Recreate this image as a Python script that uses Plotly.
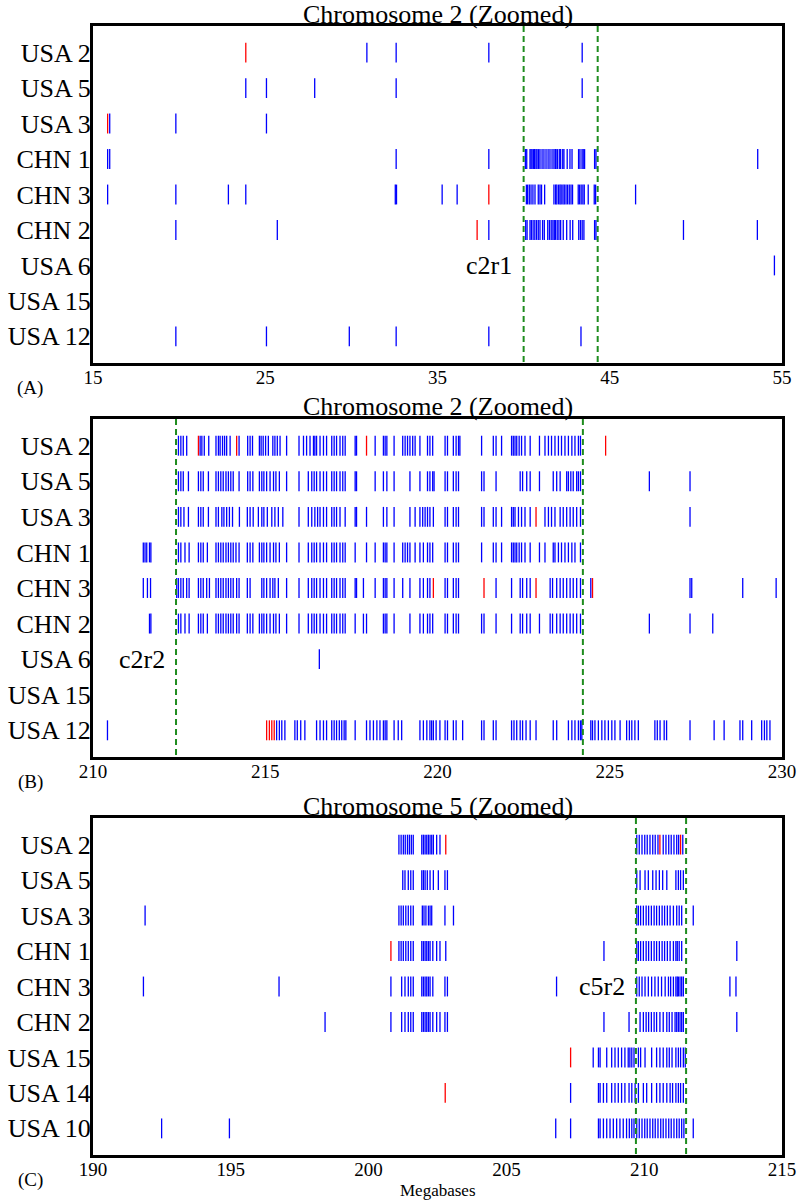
import plotly.graph_objects as go

# ---------------- Panel A : Chromosome 2 (15-55 Mb) ----------------
rows_a = ["USA 2", "USA 5", "USA 3", "CHN 1", "CHN 3", "CHN 2", "USA 6", "USA 15", "USA 12"]
a_usa2_blue = [30.9, 32.6, 37.98, 43.4]
a_usa2_red = [23.87]
a_usa5_blue = [23.87, 25.07, 27.87, 32.6, 43.4]
a_usa5_red = []
a_usa3_blue = [15.97, 19.81, 25.07]
a_usa3_red = [15.85]
a_chn1_blue = [15.85, 15.97, 32.6, 37.98, 40.10, 40.18, 40.37, 40.43, 40.49, 40.57, 40.64, 40.72, 40.78,
               40.87, 40.95, 41.07, 41.18, 41.30, 41.42, 41.53, 41.65, 41.76, 41.84, 41.88, 41.96, 42.07,
               42.15, 42.27, 42.34, 42.53, 42.69, 42.81, 43.19, 43.27, 43.39, 43.46, 43.54, 44.12, 44.20, 53.59]
a_chn1_red = []
a_chn3_blue = [15.85, 19.81, 22.86, 23.87, 32.55, 32.62, 35.27, 36.14, 40.16, 40.23, 40.33, 40.43, 40.54,
               40.66, 40.85, 40.95, 41.04, 41.22, 41.76, 41.86, 41.93, 42.03, 42.11, 42.18, 42.28, 42.36,
               42.46, 42.55, 42.65, 42.75, 42.84, 43.17, 43.25, 43.34, 43.44, 43.52, 43.75, 44.10, 44.18, 46.50]
a_chn3_red = [37.98]
a_chn2_blue = [19.81, 25.70, 37.98, 40.12, 40.20, 40.37, 40.45, 40.55, 40.65, 40.75, 40.85, 40.95, 41.10,
               41.20, 41.40, 41.50, 41.60, 41.70, 41.78, 41.85, 41.95, 42.05, 42.15, 42.30, 42.50, 42.70,
               42.85, 43.20, 43.30, 43.40, 43.50, 44.12, 44.20, 49.28, 53.57]
a_chn2_red = [37.30]
a_usa6_blue = [54.56]
a_usa6_red = []
a_usa15_blue = []
a_usa15_red = []
a_usa12_blue = [19.81, 25.07, 29.88, 32.6, 37.98, 43.33]
a_usa12_red = []
a_ticks = [15, 25, 35, 45, 55]
a_region = [40.0, 44.3]

# ---------------- Panel B : Chromosome 2 (210-230 Mb) ----------------
rows_b = ["USA 2", "USA 5", "USA 3", "CHN 1", "CHN 3", "CHN 2", "USA 6", "USA 15", "USA 12"]
b_usa2_blue = [212.48, 212.55, 212.62, 212.72, 213.11, 213.16, 213.23, 213.36, 213.57, 213.64, 213.69, 213.76,
               213.82, 213.88, 213.98, 214.24, 214.49, 214.56, 214.63, 214.83, 214.88, 214.94, 215.01, 215.09,
               215.22, 215.28, 215.35, 215.43, 215.62, 215.98, 216.11, 216.20, 216.30, 216.40, 216.44, 216.49,
               216.59, 216.69, 216.78, 216.93, 217.00, 217.07, 217.17, 217.25, 217.32, 217.61, 217.65, 218.19,
               218.43, 218.48, 218.53, 218.74, 218.99, 219.06, 219.13, 219.20, 219.28, 219.35, 219.49, 219.71,
               219.78, 219.86, 220.22, 220.29, 220.46, 220.54, 220.61, 220.65, 221.28, 221.62, 221.70, 221.86,
               222.15, 222.20, 222.25, 222.30, 222.37, 222.44, 222.54, 222.69, 222.96, 223.12, 223.22, 223.31,
               223.41, 223.51, 223.60, 223.70, 223.80, 223.90, 223.99, 224.09, 224.15]
b_usa2_red = [213.06, 214.17, 217.94, 224.88]
b_usa5_blue = [212.48, 212.55, 212.62, 212.77, 213.06, 213.13, 213.20, 213.35, 213.57, 213.64, 213.71, 213.78,
               213.86, 213.93, 214.00, 214.07, 214.24, 214.49, 214.56, 214.64, 214.83, 214.90, 214.96, 215.04,
               215.14, 215.24, 215.31, 215.41, 215.62, 215.98, 216.25, 216.35, 216.42, 216.49, 216.59, 216.69,
               216.78, 216.93, 217.00, 217.07, 217.17, 217.25, 217.32, 217.61, 217.65, 218.19, 218.43, 218.53,
               218.74, 219.20, 219.49, 219.71, 219.78, 219.86, 219.90, 220.22, 220.29, 220.46, 220.54, 220.61,
               221.28, 221.35, 221.70, 222.40, 222.47, 222.59, 222.69, 222.96, 223.36, 223.46, 223.56, 223.75,
               223.80, 223.87, 223.94, 224.04, 224.09, 224.15, 226.15, 227.33]
b_usa5_red = []
b_usa3_blue = [212.48, 212.55, 212.64, 212.77, 213.06, 213.13, 213.20, 213.35, 213.57, 213.64, 213.74, 213.80,
               213.88, 213.96, 214.05, 214.25, 214.48, 214.56, 214.65, 214.80, 214.90, 214.96, 215.06, 215.19,
               215.28, 215.38, 215.51, 215.98, 216.25, 216.35, 216.44, 216.52, 216.59, 216.69, 216.78, 216.93,
               217.00, 217.07, 217.17, 217.32, 217.61, 217.65, 217.94, 218.43, 218.53, 218.74, 219.20, 219.35,
               219.49, 219.57, 219.64, 219.71, 219.78, 219.88, 220.22, 220.29, 220.46, 220.54, 220.61, 221.28,
               221.35, 221.62, 221.70, 221.86, 222.15, 222.20, 222.25, 222.35, 222.44, 222.54, 222.69, 223.12,
               223.22, 223.31, 223.41, 223.56, 223.65, 223.75, 223.85, 223.94, 224.04, 224.15, 227.33]
b_usa3_red = [222.86]
b_chn1_blue = [211.46, 211.51, 211.56, 211.64, 211.68, 212.48, 212.55, 212.67, 212.79, 213.06, 213.13, 213.20,
               213.32, 213.57, 213.64, 213.71, 213.78, 213.86, 213.93, 214.00, 214.07, 214.15, 214.24, 214.48,
               214.56, 214.64, 214.83, 214.90, 214.96, 215.04, 215.14, 215.24, 215.31, 215.41, 215.62, 215.98,
               216.25, 216.35, 216.42, 216.49, 216.59, 216.69, 216.78, 216.93, 217.00, 217.07, 217.17, 217.25,
               217.32, 217.61, 217.94, 218.19, 218.43, 218.48, 218.53, 218.74, 218.99, 219.06, 219.13, 219.20,
               219.35, 219.49, 219.59, 219.71, 219.78, 219.86, 220.22, 220.29, 220.46, 220.54, 220.61, 221.28,
               221.62, 221.70, 221.86, 222.15, 222.20, 222.25, 222.30, 222.37, 222.44, 222.54, 222.69, 222.96,
               223.12, 223.36, 223.41, 223.51, 223.60, 223.70, 223.80, 223.90, 223.99, 224.15]
b_chn1_red = []
b_chn3_blue = [211.46, 211.58, 211.67, 212.43, 212.48, 212.55, 212.62, 212.72, 212.79, 213.06, 213.13, 213.20,
               213.30, 213.38, 213.57, 213.64, 213.71, 213.78, 213.86, 213.93, 214.00, 214.07, 214.17, 214.24,
               214.48, 214.56, 214.90, 214.96, 215.04, 215.14, 215.22, 215.28, 215.38, 215.62, 215.98, 216.25,
               216.35, 216.42, 216.49, 216.59, 216.69, 216.78, 216.93, 217.00, 217.07, 217.17, 217.25, 217.32,
               217.61, 217.65, 217.85, 218.19, 218.43, 218.48, 218.53, 218.74, 218.99, 219.20, 219.49, 219.59,
               219.71, 219.78, 220.22, 220.29, 220.46, 220.54, 220.61, 221.70, 222.15, 222.40, 222.47, 222.59,
               222.69, 223.27, 223.34, 223.46, 223.56, 223.65, 223.75, 223.85, 223.94, 224.04, 224.15, 224.45,
               227.33, 227.38, 228.86, 229.83]
b_chn3_red = [219.88, 221.35, 222.86, 224.50]
b_chn2_blue = [211.64, 211.68, 212.48, 212.55, 212.67, 212.79, 213.06, 213.13, 213.20, 213.32, 213.57, 213.64,
               213.71, 213.78, 213.86, 213.93, 214.00, 214.07, 214.17, 214.24, 214.48, 214.56, 214.64, 214.83,
               214.90, 214.96, 215.04, 215.14, 215.24, 215.31, 215.41, 215.62, 215.98, 216.25, 216.35, 216.42,
               216.49, 216.59, 216.69, 216.78, 216.93, 217.00, 217.07, 217.17, 217.25, 217.32, 217.61, 217.85,
               217.94, 218.43, 218.48, 218.53, 218.74, 219.20, 219.49, 219.59, 219.71, 219.78, 219.86, 220.22,
               220.29, 220.46, 220.54, 220.61, 221.28, 221.35, 221.70, 222.15, 222.40, 222.47, 222.59, 222.69,
               222.96, 223.27, 223.34, 223.46, 223.56, 223.65, 223.75, 223.85, 223.94, 224.04, 224.15, 226.15,
               227.33, 227.99]
b_chn2_red = []
b_usa6_blue = [216.57]
b_usa6_red = []
b_usa15_blue = []
b_usa15_red = []
b_usa12_blue = [210.42, 215.33, 215.41, 215.48, 215.57, 215.86, 215.93, 216.03, 216.15, 216.49, 216.59, 216.69,
                216.78, 216.93, 217.00, 217.07, 217.15, 217.22, 217.29, 217.34, 217.61, 217.94, 218.04, 218.14,
                218.24, 218.33, 218.43, 218.48, 218.53, 218.74, 218.86, 218.96, 219.49, 219.59, 219.69, 219.78,
                219.83, 219.88, 219.96, 220.07, 220.22, 220.29, 220.46, 220.54, 220.73, 221.28, 221.35, 221.62,
                221.70, 222.15, 222.22, 222.30, 222.40, 222.47, 222.57, 222.69, 222.86, 223.36, 223.46, 223.80,
                223.90, 223.99, 224.09, 224.15, 224.19, 224.45, 224.50, 224.57, 224.67, 224.77, 224.86, 224.96,
                225.06, 225.15, 225.30, 225.49, 225.57, 225.64, 225.73, 225.83, 226.31, 226.38, 226.46, 226.58,
                226.65, 227.33, 228.03, 228.32, 228.78, 228.86, 229.12, 229.41, 229.49, 229.56, 229.65]
b_usa12_red = [215.04, 215.12, 215.19, 215.26]
b_ticks = [210, 215, 220, 225, 230]
b_region = [212.41, 224.22]

# ---------------- Panel C : Chromosome 5 (190-215 Mb) ----------------
rows_c = ["USA 2", "USA 5", "USA 3", "CHN 1", "CHN 3", "CHN 2", "USA 15", "USA 14", "USA 10"]
c_usa2_blue = [201.10, 201.18, 201.26, 201.33, 201.41, 201.48, 201.55, 201.62, 201.93, 201.99, 202.05, 202.11,
               202.17, 202.23, 202.29, 202.35, 202.47, 202.59, 209.73, 209.82, 209.92, 210.02, 210.11, 210.21,
               210.31, 210.40, 210.50, 210.69, 210.79, 210.89, 210.98, 211.08, 211.18, 211.25, 211.40]
c_usa2_red = [202.80, 210.57, 211.32]
c_usa5_blue = [201.24, 201.32, 201.44, 201.53, 201.62, 201.93, 201.99, 202.05, 202.13, 202.23, 202.35, 202.53,
               202.77, 202.86, 209.73, 209.85, 210.03, 210.15, 210.31, 210.43, 210.55, 210.67, 210.82, 211.15,
               211.24, 211.32, 211.42]
c_usa5_red = []
c_usa3_blue = [191.89, 201.10, 201.18, 201.26, 201.35, 201.44, 201.53, 201.62, 201.95, 202.01, 202.08, 202.17,
               202.23, 202.29, 202.77, 203.08, 209.73, 209.79, 209.87, 209.97, 210.07, 210.16, 210.26, 210.36,
               210.45, 210.55, 210.65, 210.74, 210.84, 210.94, 211.06, 211.18, 211.27, 211.36, 211.78]
c_usa3_red = []
c_chn1_blue = [201.10, 201.18, 201.26, 201.35, 201.44, 201.53, 201.62, 201.93, 201.99, 202.05, 202.11, 202.17,
               202.23, 202.33, 202.47, 202.59, 202.80, 208.54, 209.73, 209.79, 209.87, 209.97, 210.07, 210.16,
               210.26, 210.36, 210.45, 210.55, 210.65, 210.74, 210.84, 210.94, 211.06, 211.15, 211.20, 211.27,
               211.36, 213.36]
c_chn1_red = [200.81]
c_chn3_blue = [191.83, 196.75, 200.81, 201.20, 201.32, 201.44, 201.53, 201.62, 201.93, 201.99, 202.05, 202.11,
               202.17, 202.23, 202.33, 202.77, 202.86, 206.82, 209.73, 209.82, 209.92, 210.03, 210.15, 210.27,
               210.39, 210.51, 210.63, 210.76, 210.88, 210.96, 211.06, 211.15, 211.20, 211.24, 211.30, 211.36,
               211.42, 213.11, 213.33]
c_chn3_red = []
c_chn2_blue = [198.42, 200.81, 201.20, 201.32, 201.44, 201.53, 201.62, 201.93, 201.99, 202.05, 202.11, 202.17,
               202.23, 202.33, 202.47, 202.59, 202.77, 202.86, 208.54, 209.45, 209.85, 209.97, 210.07, 210.16,
               210.26, 210.36, 210.45, 210.57, 210.69, 210.82, 210.91, 211.01, 211.12, 211.18, 211.24, 211.30,
               211.36, 211.42, 213.36]
c_chn2_red = []
c_usa15_blue = [208.15, 208.34, 208.40, 208.64, 208.82, 208.94, 209.06, 209.18, 209.30, 209.42, 209.48, 209.55,
                209.63, 209.79, 209.87, 210.03, 210.27, 210.45, 210.57, 210.69, 210.82, 210.91, 211.01, 211.15,
                211.24, 211.32, 211.42, 211.49]
c_usa15_red = [207.33]
c_usa14_blue = [207.33, 208.34, 208.40, 208.52, 208.64, 208.82, 208.94, 209.06, 209.18, 209.30, 209.45, 209.55,
                209.67, 209.79, 209.97, 210.09, 210.27, 210.45, 210.57, 210.69, 210.82, 210.94, 211.03, 211.15,
                211.24, 211.32, 211.42]
c_usa14_red = [202.78]
c_usa10_blue = [192.49, 194.95, 206.79, 207.33, 208.34, 208.40, 208.52, 208.64, 208.76, 208.88, 209.00, 209.12,
                209.24, 209.36, 209.46, 209.55, 209.63, 209.73, 209.82, 209.92, 210.02, 210.11, 210.21, 210.31,
                210.40, 210.50, 210.60, 210.69, 210.79, 210.89, 210.98, 211.08, 211.18, 211.27, 211.36, 211.44,
                211.78]
c_usa10_red = []
c_ticks = [190, 195, 200, 205, 210, 215]
c_region = [209.70, 211.52]

titles = ["Chromosome 2 (Zoomed)", "Chromosome 2 (Zoomed)", "Chromosome 5 (Zoomed)"]
panel_tags = ["(A)", "(B)", "(C)"]
region_names = ["c2r1", "c2r2", "c5r2"]
region_label_rows = [6, 6, 4]
region_label_x = [39.46, 212.14, 209.36]

panels = [
    dict(rows=rows_a, xr=[15, 55], ticks=a_ticks, region=a_region,
         blue=[a_usa2_blue, a_usa5_blue, a_usa3_blue, a_chn1_blue, a_chn3_blue, a_chn2_blue, a_usa6_blue, a_usa15_blue, a_usa12_blue],
         red=[a_usa2_red, a_usa5_red, a_usa3_red, a_chn1_red, a_chn3_red, a_chn2_red, a_usa6_red, a_usa15_red, a_usa12_red]),
    dict(rows=rows_b, xr=[210, 230], ticks=b_ticks, region=b_region,
         blue=[b_usa2_blue, b_usa5_blue, b_usa3_blue, b_chn1_blue, b_chn3_blue, b_chn2_blue, b_usa6_blue, b_usa15_blue, b_usa12_blue],
         red=[b_usa2_red, b_usa5_red, b_usa3_red, b_chn1_red, b_chn3_red, b_chn2_red, b_usa6_red, b_usa15_red, b_usa12_red]),
    dict(rows=rows_c, xr=[190, 215], ticks=c_ticks, region=c_region,
         blue=[c_usa2_blue, c_usa5_blue, c_usa3_blue, c_chn1_blue, c_chn3_blue, c_chn2_blue, c_usa15_blue, c_usa14_blue, c_usa10_blue],
         red=[c_usa2_red, c_usa5_red, c_usa3_red, c_chn1_red, c_chn3_red, c_chn2_red, c_usa15_red, c_usa14_red, c_usa10_red]),
]

W, H = 799, 1200
boxes = [(26, 363), (419, 757), (818, 1155)]
X0, X1 = 93, 782
HALF = 0.28
SERIF = "Liberation Serif"


def segs(list_of_rows):
    xs, ys = [], []
    for r, vals in enumerate(list_of_rows):
        for v in vals:
            xs += [v, v, None]
            ys += [r - HALF, r + HALF, None]
    return xs, ys


fig = go.Figure()
layout = dict(width=W, height=H, margin=dict(l=0, r=0, t=0, b=0, autoexpand=False),
              paper_bgcolor="white", plot_bgcolor="white", showlegend=False,
              font=dict(family=SERIF, color="black"))
annotations = []

for i, p in enumerate(panels):
    k = "" if i == 0 else str(i + 1)
    xa, ya = "x" + k, "y" + k
    top, bot = boxes[i]
    ydom = [1 - bot / H, 1 - top / H]
    layout["xaxis" + k] = dict(domain=[X0 / W, X1 / W], anchor=ya, range=p["xr"], automargin=False,
                               tickvals=p["ticks"], ticktext=[str(t) for t in p["ticks"]],
                               showgrid=False, zeroline=False, ticks="", ticklabelstandoff=-5,
                               showline=True, mirror=True, linecolor="black", linewidth=3,
                               tickfont=dict(family=SERIF, size=19, color="black"))
    layout["yaxis" + k] = dict(domain=ydom, anchor=xa, range=[8.75, -0.75], automargin=False,
                               tickvals=list(range(9)), ticktext=p["rows"],
                               showgrid=False, zeroline=False, ticks="", ticklabelstandoff=-6,
                               showline=True, mirror=True, linecolor="black", linewidth=3,
                               tickfont=dict(family=SERIF, size=26, color="black"))
    bx, by = segs(p["blue"])
    fig.add_trace(go.Scatter(x=bx, y=by, mode="lines", xaxis=xa, yaxis=ya,
                             line=dict(color="#0000ff", width=1.3), hoverinfo="skip"))
    rx, ry = segs(p["red"])
    if rx:
        fig.add_trace(go.Scatter(x=rx, y=ry, mode="lines", xaxis=xa, yaxis=ya,
                                 line=dict(color="#ff0000", width=1.3), hoverinfo="skip"))
    for v in p["region"]:
        fig.add_trace(go.Scatter(x=[v, v], y=[-0.75, 8.75], mode="lines", xaxis=xa, yaxis=ya,
                                 line=dict(color="#1e8c1e", width=2, dash="6px,4px"), hoverinfo="skip"))
    annotations.append(dict(text=region_names[i], x=region_label_x[i], y=region_label_rows[i],
                            xref=xa, yref=ya, xanchor="right", yanchor="middle", showarrow=False,
                            font=dict(family=SERIF, size=26, color="black")))
    annotations.append(dict(text=titles[i], x=(X0 + X1) / 2 / W, y=1 - (top - 12) / H,
                            xref="paper", yref="paper", xanchor="center", yanchor="middle",
                            showarrow=False, font=dict(family=SERIF, size=26, color="black")))
    annotations.append(dict(text=panel_tags[i], x=30 / W, y=1 - (bot + 25) / H,
                            xref="paper", yref="paper", xanchor="center", yanchor="middle",
                            showarrow=False, font=dict(family=SERIF, size=19, color="black")))

annotations.append(dict(text="Megabases", x=(X0 + X1) / 2 / W, y=1 - 1190 / H,
                        xref="paper", yref="paper", xanchor="center", yanchor="middle",
                        showarrow=False, font=dict(family=SERIF, size=17, color="black")))
layout["annotations"] = annotations
fig.update_layout(**layout)
fig.write_html("out.html", config={"displayModeBar": False},
               post_script="document.body.style.margin='0px';document.body.style.overflow='hidden';")
